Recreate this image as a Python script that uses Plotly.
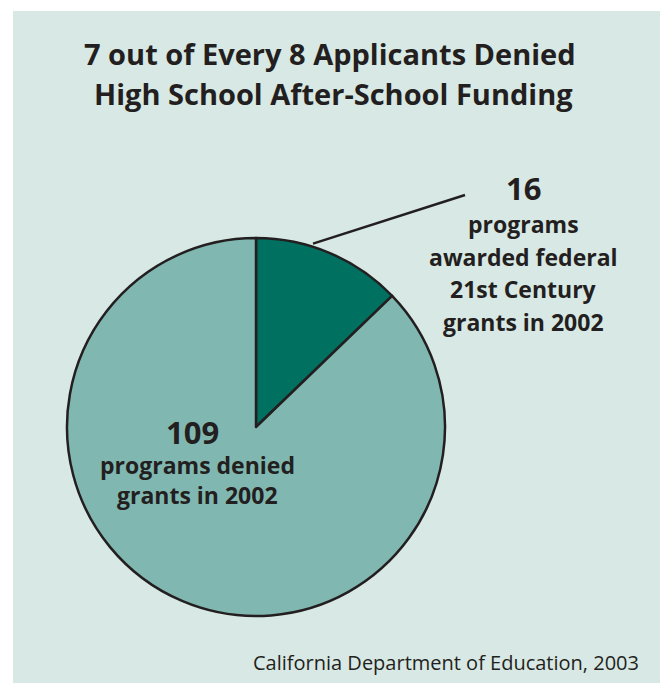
import math
import plotly.graph_objects as go

# Grant applications, 2002
labels = ["Awarded", "Denied"]
values = [16, 109]
colors = ["#007060", "#80b8b1"]

title_lines = ["7 out of Every 8 Applicants Denied", "High School After-School Funding"]
awarded_text = ["programs", "awarded federal", "21st Century", "grants in 2002"]
denied_text = ["programs denied", "grants in 2002"]
source = "California Department of Education, 2003"

W, H = 660, 683
CX, CY, R = 256, 427, 189  # pie centre and radius in pixels

def px(x):
    return x / W

def py(y):
    return 1 - y / H

FONT = "Open Sans, Arial, sans-serif"
INK = "#231f20"

fig = go.Figure(go.Pie(
    labels=labels,
    values=values,
    sort=False,
    direction="clockwise",
    rotation=0,
    marker=dict(colors=colors, line=dict(color=INK, width=2.5)),
    textinfo="none",
    hoverinfo="label+value",
    showlegend=False,
    domain=dict(x=[px(CX - R), px(CX + R)], y=[py(CY + R), py(CY - R)]),
))

# leader line from the awarded slice's rim to its label
frac = values[0] / sum(values)
ang = 2 * math.pi * frac * 0.375
x0 = CX + (R + 3) * math.sin(ang)
y0 = CY - (R + 3) * math.cos(ang)

shapes = [
    dict(type="rect", xref="paper", yref="paper", x0=px(13), x1=1.0, y0=0.0, y1=py(11),
         fillcolor="#d8e8e4", line=dict(width=0), layer="below"),
    dict(type="line", xref="paper", yref="paper", x0=px(x0), y0=py(y0), x1=px(465), y1=py(195),
         line=dict(color=INK, width=2.5)),
]

ann = []
def add(text, x, y, size, bold=True, xanchor="center"):
    ann.append(dict(text=f"<b>{text}</b>" if bold else text, x=px(x), y=py(y),
                    xref="paper", yref="paper", showarrow=False, xanchor=xanchor,
                    yanchor="middle", font=dict(family=FONT, size=size, color=INK)))

add(title_lines[0], 330, 54, 29)
add(title_lines[1], 333, 94, 29)

add(str(values[0]), 523, 188, 31)
for i, t in enumerate(awarded_text):
    add(t, 523, 224 + i * 32.5, 23)

add(str(values[1]), 192, 432, 31)
for i, t in enumerate(denied_text):
    add(t, 197, 465 + i * 30, 23)

add(source, 641, 662, 20, bold=False, xanchor="right")

fig.update_layout(
    width=W, height=H,
    margin=dict(l=0, r=0, t=0, b=0),
    paper_bgcolor="white",
    plot_bgcolor="white",
    shapes=shapes,
    annotations=ann,
)

fig.write_html("out.html")
